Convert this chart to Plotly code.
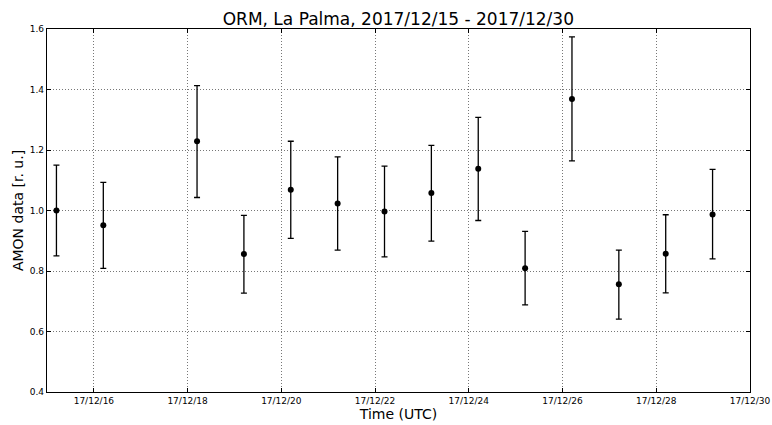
import plotly.graph_objects as go

times = ["2017-12-15 04:50", "2017-12-16 04:50", "2017-12-18 04:50", "2017-12-19 04:50",
         "2017-12-20 04:50", "2017-12-21 04:50", "2017-12-22 04:50", "2017-12-23 04:50",
         "2017-12-24 04:50", "2017-12-25 04:50", "2017-12-26 04:50", "2017-12-27 04:50",
         "2017-12-28 04:50", "2017-12-29 04:50"]
values = [1.000, 0.951, 1.229, 0.856, 1.069, 1.023, 0.997, 1.058, 1.138, 0.809, 1.369, 0.756, 0.857, 0.987]
err_plus = [0.150, 0.142, 0.184, 0.128, 0.160, 0.154, 0.150, 0.157, 0.170, 0.122, 0.205, 0.113, 0.129, 0.149]
err_minus = [0.150, 0.142, 0.186, 0.129, 0.161, 0.154, 0.150, 0.159, 0.171, 0.121, 0.205, 0.115, 0.129, 0.147]

fig = go.Figure()
fig.add_trace(go.Scatter(
    x=times, y=values, mode="markers",
    marker=dict(color="black", size=6),
    error_y=dict(type="data", symmetric=False, array=err_plus, arrayminus=err_minus,
                 color="black", thickness=1.3, width=3),
    showlegend=False,
))

axis_common = dict(
    showline=True, linecolor="black", linewidth=1.2, mirror="ticks",
    ticks="inside", ticklen=4, tickcolor="black", tickwidth=1,
    showgrid=True, gridcolor="#777777", griddash="1px,2px", gridwidth=1,
    zeroline=False, automargin=False,
    tickfont=dict(family="DejaVu Sans", size=9, color="black"),
)

fig.update_layout(
    width=772, height=425,
    margin=dict(l=47, r=22, t=29, b=33),
    paper_bgcolor="white", plot_bgcolor="white",
    title=dict(text="ORM, La Palma, 2017/12/15 - 2017/12/30", x=0.516, xanchor="center",
               y=1 - 19 / 425, yanchor="middle", yref="container",
               font=dict(family="DejaVu Sans", size=17, color="black")),
    xaxis=dict(axis_common, range=["2017-12-15", "2017-12-30"], type="date",
               tick0="2017-12-16", dtick=2 * 86400000, tickformat="%y/%m/%d",
               title=dict(text="Time (UTC)", standoff=3,
                          font=dict(family="DejaVu Sans", size=14, color="black"))),
    yaxis=dict(axis_common, range=[0.4, 1.6], dtick=0.2, tickformat=".1f",
               title=dict(text="AMON data [r. u.]", standoff=2,
                          font=dict(family="DejaVu Sans", size=14, color="black"))),
)

fig.write_html("out.html", config={"displayModeBar": False},
               post_script="document.body.style.margin='0px';document.body.style.overflow='hidden';")
